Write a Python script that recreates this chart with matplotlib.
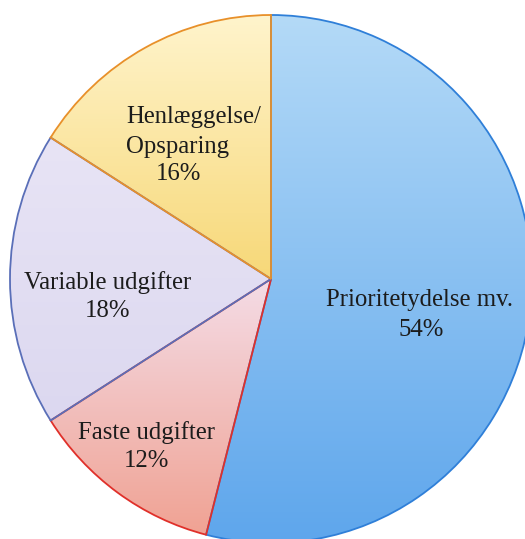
import numpy as np
import matplotlib.pyplot as plt
from matplotlib.colors import LinearSegmentedColormap

plt.rcParams['font.family'] = ['Liberation Serif', 'DejaVu Serif']

# data (clockwise from 12 o'clock)
labels = ['Prioritetydelse mv.', 'Faste udgifter', 'Variable udgifter', 'Henlæggelse/\nOpsparing']
shares = [54, 12, 18, 16]
edge_colors = ['#2f7fd8', '#e0302a', '#5a6fb8', '#e8902a']
# gradient colours: (top, bottom) of each wedge
grad_colors = [('#b4daf7', '#5ea6ec'),
               ('#f4dce6', '#f0a293'),
               ('#e8e4f5', '#dcd8f0'),
               ('#fff4cc', '#f7d878')]

fig = plt.figure(figsize=(5.25, 5.39), dpi=100)
ax = fig.add_axes([0, 0, 1, 1])

wedges, _ = ax.pie(shares, startangle=90, counterclock=False, radius=1,
                   colors=[c[1] for c in grad_colors],
                   wedgeprops=dict(linewidth=1.3))
for w, ec in zip(wedges, edge_colors):
    w.set_edgecolor(ec)

# gradient fill clipped to each wedge
yy = np.linspace(1, 0, 256).reshape(-1, 1)
for w, (c0, c1) in zip(wedges, grad_colors):
    cmap = LinearSegmentedColormap.from_list('g', [c1, c0])
    im = ax.imshow(yy, cmap=cmap, extent=[-1.05, 1.05, -1.05, 1.05],
                   aspect='auto', zorder=1.5, origin='upper')
    ext = w.get_path().get_extents()
    im.set_extent([-1.05, 1.05, ext.y0, ext.y1])
    im.set_clip_path(w)
    w.set_zorder(2)
    w.set_facecolor('none')

# slightly stretched like the scan
ax.set_aspect('auto')
ax.set_xlim(-271 / 261, (525 - 271) / 261)
ax.set_ylim((279 - 539) / 264, 279 / 264)
ax.axis('off')

fs = 17.8
tc = '#1c1c1c'
# label positions in data units
px = lambda x: (x - 271) / 261
py = lambda y: (279 - y) / 264

ax.text(px(420), py(300), labels[0], ha='center', va='center', fontsize=fs, color=tc, zorder=5)
ax.text(px(421), py(330), f'{shares[0]}%', ha='center', va='center', fontsize=fs, color=tc, zorder=5)
ax.text(px(146), py(433), labels[1], ha='center', va='center', fontsize=fs, color=tc, zorder=5)
ax.text(px(146), py(461), f'{shares[1]}%', ha='center', va='center', fontsize=fs, color=tc, zorder=5)
ax.text(px(108), py(283), labels[2], ha='center', va='center', fontsize=fs, color=tc, zorder=5)
ax.text(px(108), py(311), f'{shares[2]}%', ha='center', va='center', fontsize=fs, color=tc, zorder=5)
ax.text(px(126), py(132), labels[3], ha='left', va='center', fontsize=fs, color=tc,
        linespacing=1.45, zorder=5)
ax.text(px(178), py(174), f'{shares[3]}%', ha='center', va='center', fontsize=fs, color=tc, zorder=5)

fig.savefig('out.png', dpi=100)
